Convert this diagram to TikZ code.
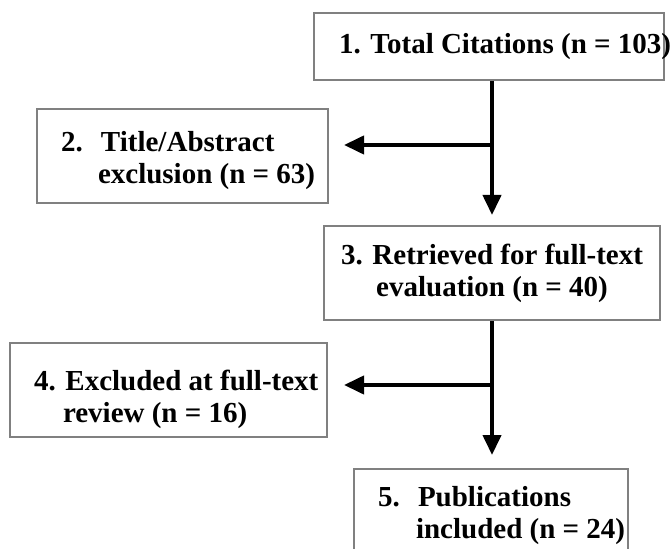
\documentclass[tikz,border=0pt]{standalone}
\usepackage{fontspec}
\setmainfont{Liberation Serif}
\usetikzlibrary{arrows.meta}

\tikzset{
  stage/.style={draw=gray, line width=1pt, anchor=north west, align=left,
    inner xsep=12pt, inner ysep=0pt, font=\bfseries\fontsize{14.5}{16}\selectfont,
    execute at begin node={\spaceskip=0pt\xspaceskip=0pt}},
  flow/.style={line width=2pt, -{Triangle[length=10pt, width=9pt]}}
}

\begin{document}
\begin{tikzpicture}[x=0.5pt, y=-0.5pt]
  \useasboundingbox (0,0) rectangle (672,549);
  \clip (0,0) rectangle (672,549);

  % Stages of the screening
  \node[stage, text width=150pt, inner xsep=12.5pt, minimum height=33.5pt] (total) at (313,12)
    {\mbox{1. Total Citations (n = 103)}};
  \node[stage, text width=121.5pt, text height=14.5pt, minimum height=47pt] (abstract) at (36,108)
    {\mbox{\makebox[20pt][l]{2.}Title/Abstract}\\\mbox{\hspace*{18.5pt}exclusion (n = 63)}};
  \node[stage, align=center, inner xsep=4pt, minimum width=168pt, minimum height=47pt] (retrieved) at (323,225)
    {3. Retrieved for full-text\\evaluation (n = 40)};
  \node[stage, text width=134.5pt, text height=20pt, minimum height=47pt] (fulltext) at (9,342)
    {\mbox{4. Excluded at full-text}\\\mbox{\hspace*{14.5pt}review (n = 16)}};
  \node[stage, text width=113pt, minimum height=47pt] (included) at (353,468)
    {\mbox{\makebox[20pt][l]{5.}Publications}\\\mbox{\hspace*{19pt}included (n = 24)}};

  % Arrows
  \coordinate (split1) at (492,145);
  \coordinate (split2) at (492,385);
  \draw[flow, shorten >=5pt] (total.south -| split1) -- (retrieved.north -| split1);
  \draw[flow, shorten >=7.5pt] (split1) -- (abstract.east |- split1);
  \draw[flow, shorten >=6.5pt] (retrieved.south -| split2) -- (included.north -| split2);
  \draw[flow, shorten >=8pt] (split2) -- (fulltext.east |- split2);
\end{tikzpicture}
\end{document}
